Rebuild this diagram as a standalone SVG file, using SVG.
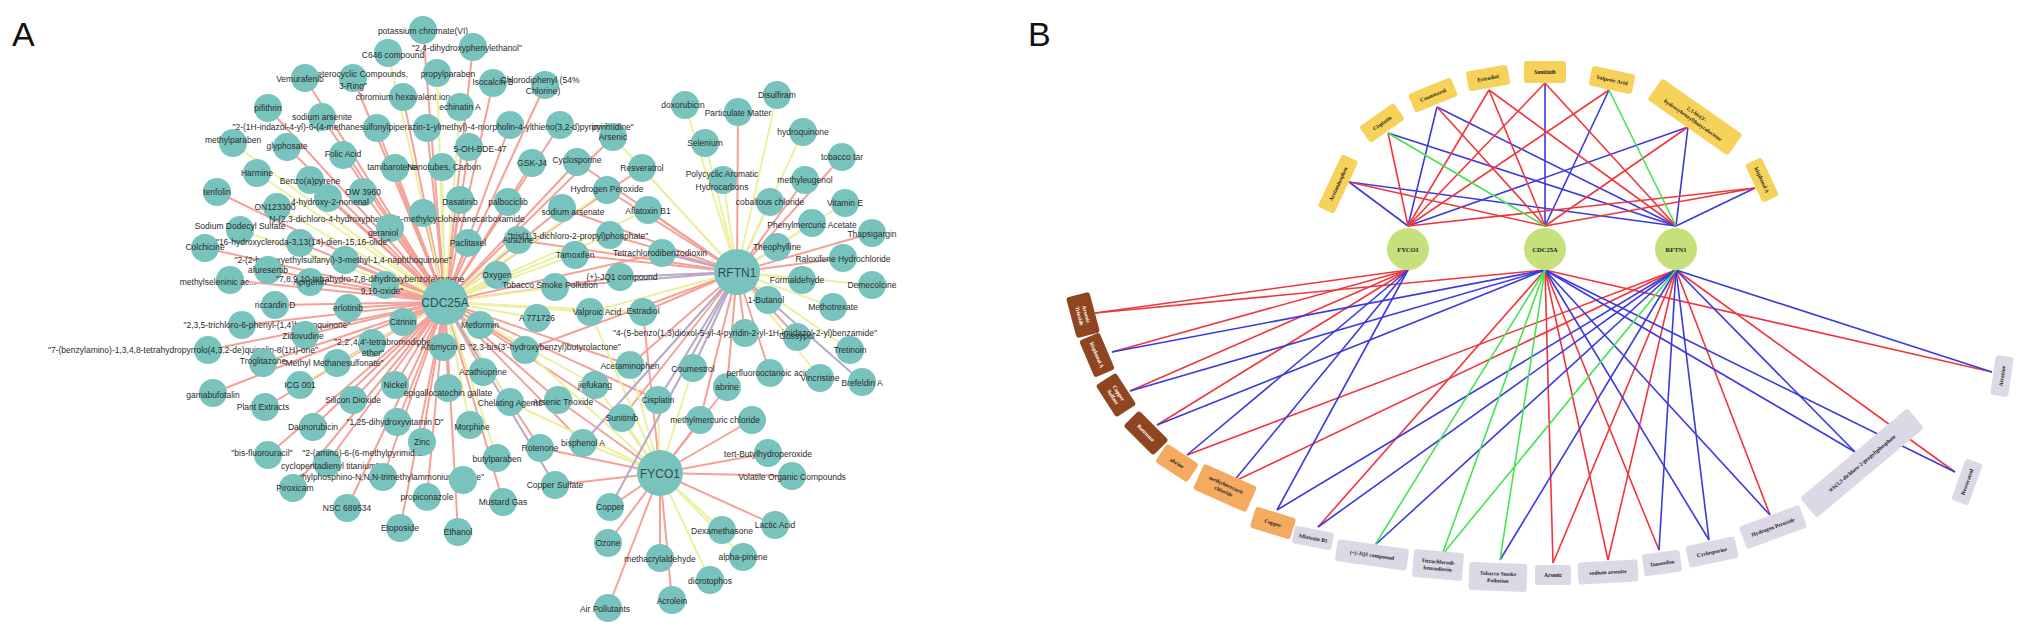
<svg xmlns="http://www.w3.org/2000/svg" width="2032" height="637" viewBox="0 0 2032 637">
<style>
.nd{fill:#78c3bd}
.lb{font-family:"Liberation Sans",Arial,sans-serif;font-size:8.5px;fill:#2b2b2b;text-anchor:middle;dominant-baseline:central}
.gl{font-size:12px;fill:#2f4f4f}
.pl{font-family:"Liberation Sans",Arial,sans-serif;font-size:34px;fill:#111}
.er{stroke:#f4a198;stroke-width:2}
.ey{stroke:#ecf0a0;stroke-width:2}
.ep{stroke:#b8a7c6;stroke-width:2}
.bg{fill:#c6e07c}
.by{fill:#f6d25a}
.bb{fill:#8f451f}
.bo{fill:#f4ab60}
.bl{fill:#dcd8e6}
.bt{font-family:"Liberation Serif","Times New Roman",serif;font-weight:bold;font-size:5.5px;fill:#222;text-anchor:middle;dominant-baseline:central}
.lr{stroke:#f0363c;stroke-width:1.6}
.lB{stroke:#3a3ae0;stroke-width:1.6}
.lg{stroke:#45e34f;stroke-width:1.6}
</style>
<rect width="2032" height="637" fill="#fff"/>
<text class="pl" x="12" y="46">A</text>
<text class="pl" x="1028" y="46">B</text>

<g id="connectors-a">
<g class="er">
<line x1="423" y1="30" x2="445" y2="302"/><line x1="473" y1="47" x2="445" y2="302"/><line x1="353" y1="78" x2="445" y2="302"/><line x1="305" y1="78" x2="445" y2="302"/><line x1="493" y1="83" x2="445" y2="302"/><line x1="545" y1="85" x2="445" y2="302"/><line x1="268" y1="108" x2="445" y2="302"/><line x1="403" y1="97" x2="445" y2="302"/><line x1="322" y1="117" x2="445" y2="302"/><line x1="427" y1="128" x2="445" y2="302"/><line x1="377" y1="128" x2="445" y2="302"/><line x1="510" y1="125" x2="445" y2="302"/><line x1="287" y1="147" x2="445" y2="302"/><line x1="343" y1="155" x2="445" y2="302"/><line x1="395" y1="168" x2="445" y2="302"/><line x1="469" y1="147" x2="445" y2="302"/><line x1="532" y1="163" x2="445" y2="302"/><line x1="577" y1="162" x2="445" y2="302"/><line x1="310" y1="180" x2="445" y2="302"/><line x1="217" y1="192" x2="445" y2="302"/><line x1="363" y1="192" x2="445" y2="302"/><line x1="328" y1="198" x2="445" y2="302"/><line x1="460" y1="200" x2="445" y2="302"/><line x1="508" y1="202" x2="445" y2="302"/><line x1="562" y1="208" x2="445" y2="302"/><line x1="423" y1="213" x2="445" y2="302"/><line x1="390" y1="228" x2="445" y2="302"/><line x1="468" y1="243" x2="445" y2="302"/><line x1="205" y1="248" x2="445" y2="302"/><line x1="300" y1="243" x2="445" y2="302"/><line x1="345" y1="260" x2="445" y2="302"/><line x1="268" y1="270" x2="445" y2="302"/><line x1="230" y1="280" x2="445" y2="302"/><line x1="310" y1="282" x2="445" y2="302"/><line x1="385" y1="285" x2="445" y2="302"/><line x1="275" y1="305" x2="445" y2="302"/><line x1="348" y1="308" x2="445" y2="302"/><line x1="242" y1="325" x2="445" y2="302"/><line x1="403" y1="322" x2="445" y2="302"/><line x1="480" y1="325" x2="445" y2="302"/><line x1="305" y1="335" x2="445" y2="302"/><line x1="372" y1="343" x2="445" y2="302"/><line x1="443" y1="347" x2="445" y2="302"/><line x1="525" y1="350" x2="445" y2="302"/><line x1="208" y1="350" x2="445" y2="302"/><line x1="263" y1="363" x2="445" y2="302"/><line x1="337" y1="363" x2="445" y2="302"/><line x1="483" y1="372" x2="445" y2="302"/><line x1="213" y1="393" x2="445" y2="302"/><line x1="395" y1="385" x2="445" y2="302"/><line x1="448" y1="388" x2="445" y2="302"/><line x1="265" y1="407" x2="445" y2="302"/><line x1="353" y1="400" x2="445" y2="302"/><line x1="558" y1="400" x2="445" y2="302"/><line x1="313" y1="427" x2="445" y2="302"/><line x1="397" y1="422" x2="445" y2="302"/><line x1="422" y1="442" x2="445" y2="302"/><line x1="540" y1="448" x2="445" y2="302"/><line x1="583" y1="443" x2="445" y2="302"/><line x1="268" y1="455" x2="445" y2="302"/><line x1="327" y1="463" x2="445" y2="302"/><line x1="383" y1="477" x2="445" y2="302"/><line x1="293" y1="488" x2="445" y2="302"/><line x1="427" y1="497" x2="445" y2="302"/><line x1="503" y1="502" x2="445" y2="302"/><line x1="347" y1="508" x2="445" y2="302"/><line x1="400" y1="528" x2="445" y2="302"/><line x1="458" y1="532" x2="445" y2="302"/><line x1="642" y1="168" x2="445" y2="302"/><line x1="613" y1="137" x2="445" y2="302"/><line x1="560" y1="125" x2="445" y2="302"/><line x1="662" y1="253" x2="445" y2="302"/><line x1="620" y1="277" x2="445" y2="302"/><line x1="630" y1="365" x2="445" y2="302"/><line x1="658" y1="400" x2="445" y2="302"/><line x1="622" y1="418" x2="445" y2="302"/>
<line x1="738" y1="112" x2="737" y2="272"/><line x1="842" y1="157" x2="737" y2="272"/><line x1="805" y1="180" x2="737" y2="272"/><line x1="607" y1="190" x2="737" y2="272"/><line x1="770" y1="202" x2="737" y2="272"/><line x1="648" y1="210" x2="737" y2="272"/><line x1="872" y1="233" x2="737" y2="272"/><line x1="777" y1="247" x2="737" y2="272"/><line x1="843" y1="258" x2="737" y2="272"/><line x1="643" y1="312" x2="737" y2="272"/><line x1="768" y1="300" x2="737" y2="272"/><line x1="745" y1="333" x2="737" y2="272"/><line x1="797" y1="337" x2="737" y2="272"/><line x1="630" y1="365" x2="737" y2="272"/><line x1="727" y1="387" x2="737" y2="272"/><line x1="770" y1="373" x2="737" y2="272"/><line x1="622" y1="418" x2="737" y2="272"/><line x1="700" y1="420" x2="737" y2="272"/><line x1="518" y1="240" x2="737" y2="272"/><line x1="610" y1="235" x2="737" y2="272"/><line x1="575" y1="255" x2="737" y2="272"/><line x1="525" y1="350" x2="737" y2="272"/><line x1="577" y1="162" x2="737" y2="272"/><line x1="562" y1="208" x2="737" y2="272"/>
<line x1="558" y1="400" x2="660" y2="473"/><line x1="540" y1="448" x2="660" y2="473"/><line x1="555" y1="485" x2="660" y2="473"/><line x1="643" y1="312" x2="660" y2="473"/><line x1="727" y1="387" x2="660" y2="473"/><line x1="700" y1="420" x2="660" y2="473"/><line x1="752" y1="420" x2="660" y2="473"/><line x1="768" y1="453" x2="660" y2="473"/><line x1="792" y1="476" x2="660" y2="473"/><line x1="610" y1="507" x2="660" y2="473"/><line x1="775" y1="525" x2="660" y2="473"/><line x1="608" y1="543" x2="660" y2="473"/><line x1="660" y1="558" x2="660" y2="473"/><line x1="672" y1="600" x2="660" y2="473"/><line x1="608" y1="608" x2="660" y2="473"/>
</g>
<g class="ey">
<line x1="388" y1="53" x2="445" y2="302"/><line x1="437" y1="73" x2="445" y2="302"/><line x1="460" y1="107" x2="445" y2="302"/><line x1="233" y1="143" x2="445" y2="302"/><line x1="442" y1="167" x2="445" y2="302"/><line x1="257" y1="173" x2="445" y2="302"/><line x1="277" y1="207" x2="445" y2="302"/><line x1="240" y1="230" x2="445" y2="302"/><line x1="518" y1="240" x2="445" y2="302"/><line x1="610" y1="235" x2="445" y2="302"/><line x1="575" y1="255" x2="445" y2="302"/><line x1="497" y1="275" x2="445" y2="302"/><line x1="555" y1="287" x2="445" y2="302"/><line x1="537" y1="318" x2="445" y2="302"/><line x1="590" y1="312" x2="445" y2="302"/><line x1="300" y1="385" x2="445" y2="302"/><line x1="595" y1="385" x2="445" y2="302"/><line x1="510" y1="402" x2="445" y2="302"/><line x1="470" y1="425" x2="445" y2="302"/><line x1="497" y1="458" x2="445" y2="302"/><line x1="607" y1="190" x2="445" y2="302"/><line x1="648" y1="210" x2="445" y2="302"/><line x1="643" y1="312" x2="445" y2="302"/>
<line x1="685" y1="105" x2="737" y2="272"/><line x1="777" y1="95" x2="737" y2="272"/><line x1="803" y1="132" x2="737" y2="272"/><line x1="705" y1="143" x2="737" y2="272"/><line x1="642" y1="168" x2="737" y2="272"/><line x1="723" y1="180" x2="737" y2="272"/><line x1="845" y1="203" x2="737" y2="272"/><line x1="613" y1="137" x2="737" y2="272"/><line x1="812" y1="223" x2="737" y2="272"/><line x1="802" y1="280" x2="737" y2="272"/><line x1="872" y1="285" x2="737" y2="272"/><line x1="833" y1="307" x2="737" y2="272"/><line x1="850" y1="350" x2="737" y2="272"/><line x1="820" y1="378" x2="737" y2="272"/><line x1="590" y1="312" x2="737" y2="272"/>
<line x1="590" y1="312" x2="660" y2="473"/><line x1="525" y1="350" x2="660" y2="473"/><line x1="595" y1="385" x2="660" y2="473"/><line x1="510" y1="402" x2="660" y2="473"/><line x1="583" y1="443" x2="660" y2="473"/><line x1="630" y1="365" x2="660" y2="473"/><line x1="693" y1="368" x2="660" y2="473"/><line x1="658" y1="400" x2="660" y2="473"/><line x1="622" y1="418" x2="660" y2="473"/><line x1="722" y1="530" x2="660" y2="473"/><line x1="743" y1="557" x2="660" y2="473"/><line x1="710" y1="580" x2="660" y2="473"/>
</g>
<g class="ep">
<line x1="555" y1="485" x2="445" y2="302"/>
<line x1="662" y1="253" x2="737" y2="272"/><line x1="620" y1="277" x2="737" y2="272"/><line x1="555" y1="287" x2="737" y2="272"/><line x1="693" y1="368" x2="737" y2="272"/><line x1="862" y1="382" x2="737" y2="272"/><line x1="658" y1="400" x2="737" y2="272"/><line x1="583" y1="443" x2="737" y2="272"/><line x1="610" y1="507" x2="737" y2="272"/>
</g>
</g>

<g id="nodes-a">
<g id="a1"><circle class="nd" cx="423" cy="30" r="14"/><text class="lb" x="423" y="31">potassium chromate(VI)</text></g>
<g id="a2"><circle class="nd" cx="473" cy="47" r="14"/><text class="lb" x="467" y="48">"2,4-dihydroxyphenylethanol"</text></g>
<g id="a3"><circle class="nd" cx="388" cy="53" r="14"/><text class="lb" x="393" y="55">C646 compound</text></g>
<g id="a4"><circle class="nd" cx="353" cy="78" r="14"/><text class="lb" x="358" y="74">"Heterocyclic Compounds,</text><text class="lb" x="353" y="86">3-Ring"</text></g>
<g id="a5"><circle class="nd" cx="437" cy="73" r="14"/><text class="lb" x="448" y="74">propylparaben</text></g>
<g id="a6"><circle class="nd" cx="305" cy="78" r="14"/><text class="lb" x="300" y="79">Vemurafenib</text></g>
<g id="a7"><circle class="nd" cx="493" cy="83" r="14"/><text class="lb" x="493" y="82">Isocalcin B</text></g>
<g id="a8"><circle class="nd" cx="545" cy="85" r="14"/><text class="lb" x="540" y="80">Chlorodiphenyl (54%</text><text class="lb" x="543" y="91">Chlorine)</text></g>
<g id="a9"><circle class="nd" cx="268" cy="108" r="14"/><text class="lb" x="268" y="108">pifithrin</text></g>
<g id="a10"><circle class="nd" cx="403" cy="97" r="14"/><text class="lb" x="403" y="97">chromium hexavalent ion</text></g>
<g id="a11"><circle class="nd" cx="460" cy="107" r="14"/><text class="lb" x="460" y="107">echinatin A</text></g>
<g id="a12"><circle class="nd" cx="322" cy="117" r="14"/><text class="lb" x="322" y="117">sodium arsenite</text></g>
<g id="a13b"><circle class="nd" cx="377" cy="128" r="14"/></g>
<g id="a13c"><circle class="nd" cx="510" cy="125" r="14"/></g>
<g id="a103"><circle class="nd" cx="560" cy="125" r="14"/></g>
<g id="a13"><circle class="nd" cx="427" cy="128" r="14"/><text class="lb" x="427" y="127">"2-(1H-indazol-4-yl)-6-(4-methanesulfonylpiperazin-1-ylmethyl)-4-morpholin-4-ylthieno(3,2-d)pyrimidine"</text></g>
<g id="a14"><circle class="nd" cx="233" cy="143" r="14"/><text class="lb" x="233" y="140">methylparaben</text></g>
<g id="a15"><circle class="nd" cx="287" cy="147" r="14"/><text class="lb" x="287" y="146">glyphosate</text></g>
<g id="a16"><circle class="nd" cx="343" cy="155" r="14"/><text class="lb" x="343" y="154">Folic Acid</text></g>
<g id="a17"><circle class="nd" cx="395" cy="168" r="14"/><text class="lb" x="392" y="167">tamibarotene</text></g>
<g id="a18"><circle class="nd" cx="442" cy="167" r="14"/><text class="lb" x="444" y="167">Nanotubes, Carbon</text></g>
<g id="a19"><circle class="nd" cx="469" cy="147" r="14"/><text class="lb" x="480" y="149">5-OH-BDE-47</text></g>
<g id="a20"><circle class="nd" cx="532" cy="163" r="14"/><text class="lb" x="532" y="163">GSK-J4</text></g>
<g id="a21"><circle class="nd" cx="577" cy="162" r="14"/><text class="lb" x="577" y="160">Cyclosporine</text></g>
<g id="a22"><circle class="nd" cx="257" cy="173" r="14"/><text class="lb" x="257" y="173">Harmine</text></g>
<g id="a23"><circle class="nd" cx="310" cy="180" r="14"/><text class="lb" x="310" y="181">Benzo(a)pyrene</text></g>
<g id="a24"><circle class="nd" cx="217" cy="192" r="14"/><text class="lb" x="217" y="192">tenfolin</text></g>
<g id="a25"><circle class="nd" cx="363" cy="192" r="14"/><text class="lb" x="363" y="192">OW 3960</text></g>
<g id="a26"><circle class="nd" cx="277" cy="207" r="14"/><text class="lb" x="275" y="207">ON123300</text></g>
<g id="a27"><circle class="nd" cx="328" cy="198" r="14"/><text class="lb" x="330" y="202">4-hydroxy-2-nonenal</text></g>
<g id="a28"><circle class="nd" cx="460" cy="200" r="14"/><text class="lb" x="460" y="202">Dasatinib</text></g>
<g id="a29"><circle class="nd" cx="508" cy="202" r="14"/><text class="lb" x="508" y="202">palbociclib</text></g>
<g id="a30"><circle class="nd" cx="562" cy="208" r="14"/><text class="lb" x="573" y="212">sodium arsenate</text></g>
<g id="a31"><circle class="nd" cx="423" cy="213" r="14"/><text class="lb" x="397" y="219">N-(2,3-dichloro-4-hydroxyphenyl)-1-methylcyclohexanecarboxamide</text></g>
<g id="a32"><circle class="nd" cx="390" cy="228" r="14"/><text class="lb" x="383" y="233">geraniol</text></g>
<g id="a33"><circle class="nd" cx="240" cy="230" r="14"/><text class="lb" x="240" y="226">Sodium Dodecyl Sulfate</text></g>
<g id="a34"><circle class="nd" cx="468" cy="243" r="14"/><text class="lb" x="468" y="243">Paclitaxel</text></g>
<g id="a35"><circle class="nd" cx="518" cy="240" r="14"/><text class="lb" x="518" y="240">Atrazine</text></g>
<g id="a36"><circle class="nd" cx="610" cy="235" r="14"/><text class="lb" x="578" y="236">"tris(1,3-dichloro-2-propyl)phosphate"</text></g>
<g id="a37"><circle class="nd" cx="205" cy="248" r="14"/><text class="lb" x="205" y="247">Colchicine</text></g>
<g id="a38"><circle class="nd" cx="300" cy="243" r="14"/><text class="lb" x="303" y="242">"16-hydroxycleroda-3,13(14)-dien-15,16-olide"</text></g>
<g id="a39"><circle class="nd" cx="345" cy="260" r="14"/><text class="lb" x="343" y="260">"2-(2-hydroxyethylsulfanyl)-3-methyl-1,4-naphthoquinone"</text></g>
<g id="a40"><circle class="nd" cx="575" cy="255" r="14"/><text class="lb" x="575" y="255">Tamoxifen</text></g>
<g id="a41"><circle class="nd" cx="268" cy="270" r="14"/><text class="lb" x="268" y="270">afuresertib</text></g>
<g id="a42"><circle class="nd" cx="230" cy="280" r="14"/><text class="lb" x="218" y="282">methylseleninic ac...</text></g>
<g id="a43"><circle class="nd" cx="310" cy="282" r="14"/><text class="lb" x="310" y="282">Apigenin</text></g>
<g id="a44"><circle class="nd" cx="385" cy="285" r="14"/><text class="lb" x="370" y="279">"7,8,9,10-tetrahydro-7,8-dihydroxybenzo(a)pyrene</text><text class="lb" x="382" y="291">9,10-oxide"</text></g>
<g id="a45"><circle class="nd" cx="497" cy="275" r="14"/><text class="lb" x="497" y="275">Oxygen</text></g>
<g id="a46"><circle class="nd" cx="555" cy="287" r="14"/><text class="lb" x="550" y="285">Tobacco Smoke Pollution</text></g>
<g id="a47"><circle class="nd" cx="275" cy="305" r="14"/><text class="lb" x="275" y="305">riccardin D</text></g>
<g id="a48"><circle class="nd" cx="348" cy="308" r="14"/><text class="lb" x="348" y="308">erlotinib</text></g>
<g id="a49"><circle class="nd" cx="537" cy="318" r="14"/><text class="lb" x="537" y="318">A 771726</text></g>
<g id="a50"><circle class="nd" cx="590" cy="312" r="14"/><text class="lb" x="597" y="312">Valproic Acid</text></g>
<g id="a51"><circle class="nd" cx="242" cy="325" r="14"/><text class="lb" x="267" y="325">"2,3,5-trichloro-6-phenyl-(1,4)benzoquinone"</text></g>
<g id="a52"><circle class="nd" cx="403" cy="322" r="14"/><text class="lb" x="403" y="322">Citrinin</text></g>
<g id="a53"><circle class="nd" cx="480" cy="325" r="14"/><text class="lb" x="480" y="325">Metformin</text></g>
<g id="a54"><circle class="nd" cx="305" cy="335" r="14"/><text class="lb" x="303" y="336">Zidovudine</text></g>
<g id="a55"><circle class="nd" cx="372" cy="343" r="14"/><text class="lb" x="388" y="342">"2,2',4,4'-tetrabromodiphenyl</text><text class="lb" x="373" y="353">ether"</text></g>
<g id="a56"><circle class="nd" cx="443" cy="347" r="14"/><text class="lb" x="443" y="347">Antimycin B</text></g>
<g id="a57"><circle class="nd" cx="525" cy="350" r="14"/><text class="lb" x="545" y="347">"2,3-bis(3'-hydroxybenzyl)butyrolactone"</text></g>
<g id="a58"><circle class="nd" cx="208" cy="350" r="14"/><text class="lb" x="183" y="350">"7-(benzylamino)-1,3,4,8-tetrahydropyrrolo(4,3,2-de)quinolin-8(1H)-one"</text></g>
<g id="a59"><circle class="nd" cx="263" cy="363" r="14"/><text class="lb" x="263" y="361">Troglitazone</text></g>
<g id="a60"><circle class="nd" cx="337" cy="363" r="14"/><text class="lb" x="333" y="363">"Methyl Methanesulfonate"</text></g>
<g id="a61"><circle class="nd" cx="483" cy="372" r="14"/><text class="lb" x="483" y="372">Azathioprine</text></g>
<g id="a62"><circle class="nd" cx="213" cy="393" r="14"/><text class="lb" x="213" y="395">gamabufotalin</text></g>
<g id="a63"><circle class="nd" cx="300" cy="385" r="14"/><text class="lb" x="300" y="385">ICG 001</text></g>
<g id="a64"><circle class="nd" cx="395" cy="385" r="14"/><text class="lb" x="395" y="385">Nickel</text></g>
<g id="a65"><circle class="nd" cx="448" cy="388" r="14"/><text class="lb" x="448" y="393">epigallocatechin gallate</text></g>
<g id="a66"><circle class="nd" cx="595" cy="385" r="14"/><text class="lb" x="595" y="385">jiefukang</text></g>
<g id="a67"><circle class="nd" cx="265" cy="407" r="14"/><text class="lb" x="263" y="407">Plant Extracts</text></g>
<g id="a68"><circle class="nd" cx="353" cy="400" r="14"/><text class="lb" x="353" y="400">Silicon Dioxide</text></g>
<g id="a69"><circle class="nd" cx="510" cy="402" r="14"/><text class="lb" x="510" y="403">Chelating Agents</text></g>
<g id="a70"><circle class="nd" cx="558" cy="400" r="14"/><text class="lb" x="563" y="402">Arsenic Trioxide</text></g>
<g id="a71"><circle class="nd" cx="313" cy="427" r="14"/><text class="lb" x="313" y="427">Daunorubicin</text></g>
<g id="a72"><circle class="nd" cx="397" cy="422" r="14"/><text class="lb" x="395" y="422">"1,25-dihydroxyvitamin D"</text></g>
<g id="a73"><circle class="nd" cx="470" cy="425" r="14"/><text class="lb" x="472" y="427">Morphine</text></g>
<g id="a74"><circle class="nd" cx="422" cy="442" r="14"/><text class="lb" x="422" y="442">Zinc</text></g>
<g id="a75"><circle class="nd" cx="540" cy="448" r="14"/><text class="lb" x="540" y="448">Rotenone</text></g>
<g id="a76"><circle class="nd" cx="583" cy="443" r="14"/><text class="lb" x="583" y="443">bisphenol A</text></g>
<g id="a77"><circle class="nd" cx="268" cy="455" r="14"/><text class="lb" x="262" y="453">"bis-fluorouracil"</text></g>
<g id="a78"><circle class="nd" cx="327" cy="463" r="14"/><text class="lb" x="362" y="453">"2-(amino)-6-(6-methylpyrimid...</text><text class="lb" x="330" y="466">cyclopentadienyl titanium"</text></g>
<g id="a80"><circle class="nd" cx="497" cy="458" r="14"/><text class="lb" x="497" y="459">butylparaben</text></g>
<g id="a81"><circle class="nd" cx="383" cy="477" r="14"/><text class="lb" x="388" y="477">"ethylphosphino-N,N,N-trimethylammoniumethane"</text></g>
<g id="a81b"><circle class="nd" cx="463" cy="480" r="14"/></g>
<g id="a82"><circle class="nd" cx="555" cy="485" r="14"/><text class="lb" x="555" y="485">Copper Sulfate</text></g>
<g id="a83"><circle class="nd" cx="293" cy="488" r="14"/><text class="lb" x="295" y="488">Piroxicam</text></g>
<g id="a84"><circle class="nd" cx="427" cy="497" r="14"/><text class="lb" x="427" y="497">propiconazole</text></g>
<g id="a85"><circle class="nd" cx="503" cy="502" r="14"/><text class="lb" x="503" y="502">Mustard Gas</text></g>
<g id="a86"><circle class="nd" cx="347" cy="508" r="14"/><text class="lb" x="347" y="508">NSC 689534</text></g>
<g id="a87"><circle class="nd" cx="400" cy="528" r="14"/><text class="lb" x="400" y="528">Etoposide</text></g>
<g id="a88"><circle class="nd" cx="458" cy="532" r="14"/><text class="lb" x="458" y="532">Ethanol</text></g>
<g id="a89"><circle class="nd" cx="685" cy="105" r="14"/><text class="lb" x="683" y="105">doxorubicin</text></g>
<g id="a90"><circle class="nd" cx="738" cy="112" r="14"/><text class="lb" x="738" y="113">Particulate Matter</text></g>
<g id="a91"><circle class="nd" cx="777" cy="95" r="14"/><text class="lb" x="777" y="95">Disulfiram</text></g>
<g id="a92"><circle class="nd" cx="803" cy="132" r="14"/><text class="lb" x="803" y="132">hydroquinone</text></g>
<g id="a93"><circle class="nd" cx="705" cy="143" r="14"/><text class="lb" x="705" y="143">Selenium</text></g>
<g id="a94"><circle class="nd" cx="842" cy="157" r="14"/><text class="lb" x="842" y="157">tobacco tar</text></g>
<g id="a95"><circle class="nd" cx="642" cy="168" r="14"/><text class="lb" x="642" y="168">Resveratrol</text></g>
<g id="a96"><circle class="nd" cx="723" cy="180" r="14"/><text class="lb" x="722" y="174">Polycyclic Aromatic</text><text class="lb" x="722" y="187">Hydrocarbons</text></g>
<g id="a97"><circle class="nd" cx="805" cy="180" r="14"/><text class="lb" x="805" y="180">methyleugenol</text></g>
<g id="a98"><circle class="nd" cx="607" cy="190" r="14"/><text class="lb" x="607" y="189">Hydrogen Peroxide</text></g>
<g id="a99"><circle class="nd" cx="770" cy="202" r="14"/><text class="lb" x="770" y="202">cobaltous chloride</text></g>
<g id="a100"><circle class="nd" cx="845" cy="203" r="14"/><text class="lb" x="845" y="203">Vitamin E</text></g>
<g id="a101"><circle class="nd" cx="648" cy="210" r="14"/><text class="lb" x="648" y="211">Aflatoxin B1</text></g>
<g id="a102"><circle class="nd" cx="613" cy="137" r="14"/><text class="lb" x="613" y="127">pyrimidine"</text><text class="lb" x="613" y="137">Arsenic</text></g>
<g id="a104"><circle class="nd" cx="812" cy="223" r="14"/><text class="lb" x="812" y="225">Phenylmercuric Acetate</text></g>
<g id="a105"><circle class="nd" cx="872" cy="233" r="14"/><text class="lb" x="872" y="234">Thapsigargin</text></g>
<g id="a106"><circle class="nd" cx="662" cy="253" r="14"/><text class="lb" x="660" y="253">Tetrachlorodibenzodioxin</text></g>
<g id="a107"><circle class="nd" cx="777" cy="247" r="14"/><text class="lb" x="777" y="247">Theophylline</text></g>
<g id="a108"><circle class="nd" cx="843" cy="258" r="14"/><text class="lb" x="843" y="259">Raloxifene Hydrochloride</text></g>
<g id="a109"><circle class="nd" cx="620" cy="277" r="14"/><text class="lb" x="622" y="277">(+)-JQ1 compound</text></g>
<g id="a110"><circle class="nd" cx="802" cy="280" r="14"/><text class="lb" x="797" y="280">Formaldehyde</text></g>
<g id="a111"><circle class="nd" cx="872" cy="285" r="14"/><text class="lb" x="872" y="285">Demecolcine</text></g>
<g id="a112"><circle class="nd" cx="643" cy="312" r="14"/><text class="lb" x="643" y="311">Estradiol</text></g>
<g id="a113"><circle class="nd" cx="768" cy="300" r="14"/><text class="lb" x="766" y="300">1-Butanol</text></g>
<g id="a114"><circle class="nd" cx="833" cy="307" r="14"/><text class="lb" x="833" y="307">Methotrexate</text></g>
<g id="a115"><circle class="nd" cx="745" cy="333" r="14"/></g>
<g id="a116"><circle class="nd" cx="797" cy="337" r="14"/><text class="lb" x="745" y="333">"4-(5-benzo(1,3)dioxol-5-yl-4-pyridin-2-yl-1H-imidazol-2-yl)benzamide"</text><text class="lb" x="797" y="336">Gossypol</text></g>
<g id="a117"><circle class="nd" cx="850" cy="350" r="14"/><text class="lb" x="850" y="350">Tretinoin</text></g>
<g id="a118"><circle class="nd" cx="630" cy="365" r="14"/><text class="lb" x="630" y="366">Acetaminophen</text></g>
<g id="a119"><circle class="nd" cx="693" cy="368" r="14"/><text class="lb" x="693" y="369">Coumestrol</text></g>
<g id="a120"><circle class="nd" cx="727" cy="387" r="14"/><text class="lb" x="727" y="387">abrine</text></g>
<g id="a121"><circle class="nd" cx="770" cy="373" r="14"/><text class="lb" x="768" y="373">perfluorooctanoic acid</text></g>
<g id="a122"><circle class="nd" cx="820" cy="378" r="14"/><text class="lb" x="820" y="378">Vincristine</text></g>
<g id="a123"><circle class="nd" cx="862" cy="382" r="14"/><text class="lb" x="862" y="383">Brefeldin A</text></g>
<g id="a124"><circle class="nd" cx="658" cy="400" r="14"/><text class="lb" x="658" y="400">Cisplatin</text></g>
<g id="a125"><circle class="nd" cx="622" cy="418" r="14"/><text class="lb" x="622" y="418">Sunitinib</text></g>
<g id="a127"><circle class="nd" cx="752" cy="420" r="14"/></g>
<g id="a126"><circle class="nd" cx="700" cy="420" r="14"/><text class="lb" x="715" y="420">methylmercuric chloride</text></g>
<g id="a128"><circle class="nd" cx="768" cy="453" r="14"/><text class="lb" x="768" y="454">tert-Butylhydroperoxide</text></g>
<g id="a129"><circle class="nd" cx="792" cy="476" r="14"/><text class="lb" x="792" y="477">Volatile Organic Compounds</text></g>
<g id="a130"><circle class="nd" cx="610" cy="507" r="14"/><text class="lb" x="610" y="507">Copper</text></g>
<g id="a131"><circle class="nd" cx="722" cy="530" r="14"/><text class="lb" x="722" y="531">Dexamethasone</text></g>
<g id="a132"><circle class="nd" cx="775" cy="525" r="14"/><text class="lb" x="775" y="525">Lactic Acid</text></g>
<g id="a133"><circle class="nd" cx="608" cy="543" r="14"/><text class="lb" x="608" y="543">Ozone</text></g>
<g id="a134"><circle class="nd" cx="743" cy="557" r="14"/><text class="lb" x="743" y="557">alpha-pinene</text></g>
<g id="a135"><circle class="nd" cx="660" cy="558" r="14"/><text class="lb" x="660" y="559">methacrylaldehyde</text></g>
<g id="a136"><circle class="nd" cx="710" cy="580" r="14"/><text class="lb" x="710" y="581">dicrotophos</text></g>
<g id="a137"><circle class="nd" cx="672" cy="600" r="14"/><text class="lb" x="672" y="601">Acrolein</text></g>
<g id="a138"><circle class="nd" cx="608" cy="608" r="14"/><text class="lb" x="605" y="609">Air Pollutants</text></g>
<g id="a-cdc25a"><circle class="nd" cx="445" cy="302" r="23"/><text class="lb gl" x="445" y="303">CDC25A</text></g>
<g id="a-rftn1"><circle class="nd" cx="737" cy="272" r="23"/><text class="lb gl" x="737" y="273">RFTN1</text></g>
<g id="a-fyco1"><circle class="nd" cx="660" cy="473" r="23"/><text class="lb gl" x="660" y="474">FYCO1</text></g>
</g>

<g id="connectors-b">
<g class="lB"><line x1="1349" y1="182" x2="1408" y2="226"/><line x1="1349" y1="182" x2="1676" y2="226"/><line x1="1388" y1="133" x2="1676" y2="226"/><line x1="1437" y1="107" x2="1408" y2="226"/><line x1="1437" y1="107" x2="1676" y2="226"/><line x1="1545" y1="83" x2="1545" y2="226"/><line x1="1609" y1="90" x2="1545" y2="226"/><line x1="1688" y1="127" x2="1408" y2="226"/><line x1="1688" y1="127" x2="1676" y2="226"/><line x1="1755" y1="188" x2="1676" y2="226"/></g>
<g class="lr"><line x1="1349" y1="182" x2="1545" y2="226"/><line x1="1388" y1="133" x2="1408" y2="226"/><line x1="1437" y1="107" x2="1545" y2="226"/><line x1="1489" y1="90" x2="1408" y2="226"/><line x1="1489" y1="90" x2="1545" y2="226"/><line x1="1489" y1="90" x2="1676" y2="226"/><line x1="1545" y1="83" x2="1408" y2="226"/><line x1="1545" y1="83" x2="1676" y2="226"/><line x1="1609" y1="90" x2="1408" y2="226"/><line x1="1688" y1="127" x2="1545" y2="226"/><line x1="1755" y1="188" x2="1408" y2="226"/><line x1="1755" y1="188" x2="1545" y2="226"/></g>
<g class="lg"><line x1="1388" y1="133" x2="1545" y2="226"/><line x1="1609" y1="90" x2="1676" y2="226"/></g>
<g class="lr"><line x1="1095" y1="313" x2="1408" y2="270"/><line x1="1095" y1="313" x2="1545" y2="270"/><line x1="1112" y1="352" x2="1408" y2="270"/><line x1="1130" y1="391" x2="1408" y2="270"/><line x1="1157" y1="425" x2="1408" y2="270"/><line x1="1187" y1="455" x2="1676" y2="270"/><line x1="1233" y1="482" x2="1676" y2="270"/><line x1="1318" y1="527" x2="1545" y2="270"/><line x1="1553" y1="563" x2="1545" y2="270"/><line x1="1553" y1="563" x2="1676" y2="270"/><line x1="1608" y1="560" x2="1545" y2="270"/><line x1="1608" y1="560" x2="1676" y2="270"/><line x1="1659" y1="550" x2="1545" y2="270"/><line x1="1770" y1="515" x2="1676" y2="270"/><line x1="1955" y1="472" x2="1676" y2="270"/><line x1="1992" y1="372" x2="1545" y2="270"/></g>
<g class="lB"><line x1="1112" y1="352" x2="1545" y2="270"/><line x1="1130" y1="391" x2="1545" y2="270"/><line x1="1157" y1="425" x2="1545" y2="270"/><line x1="1187" y1="455" x2="1408" y2="270"/><line x1="1233" y1="482" x2="1408" y2="270"/><line x1="1277" y1="510" x2="1408" y2="270"/><line x1="1277" y1="510" x2="1676" y2="270"/><line x1="1318" y1="527" x2="1676" y2="270"/><line x1="1375" y1="545" x2="1676" y2="270"/><line x1="1500" y1="560" x2="1676" y2="270"/><line x1="1659" y1="550" x2="1676" y2="270"/><line x1="1709" y1="540" x2="1545" y2="270"/><line x1="1709" y1="540" x2="1676" y2="270"/><line x1="1770" y1="515" x2="1545" y2="270"/><line x1="1855" y1="452" x2="1545" y2="270"/><line x1="1855" y1="452" x2="1676" y2="270"/><line x1="1955" y1="472" x2="1545" y2="270"/><line x1="1992" y1="372" x2="1676" y2="270"/></g>
<g class="lg"><line x1="1375" y1="545" x2="1545" y2="270"/><line x1="1442" y1="555" x2="1545" y2="270"/><line x1="1442" y1="555" x2="1676" y2="270"/><line x1="1500" y1="560" x2="1545" y2="270"/></g>
</g>

<g id="nodes-b">
<g id="b-fyco1"><circle class="bg" cx="1408" cy="249" r="21"/><text class="bt" x="1408" y="249" style="font-size:6.5px">FYCO1</text></g>
<g id="b-cdc25a"><circle class="bg" cx="1545" cy="249" r="21"/><text class="bt" x="1545" y="249" style="font-size:6.5px">CDC25A</text></g>
<g id="b-rftn1"><circle class="bg" cx="1676" cy="249" r="21"/><text class="bt" x="1676" y="249" style="font-size:6.5px">RFTN1</text></g>

<g id="b-acetaminophen" transform="translate(1338,184) rotate(-65)"><rect class="by" x="-29" y="-9" width="58" height="18" rx="3"/><text class="bt">Acetaminophen</text></g>
<g id="b-cisplatin" transform="translate(1382,123) rotate(-35)"><rect class="by" x="-21" y="-10" width="42" height="20" rx="3"/><text class="bt">Cisplatin</text></g>
<g id="b-coumestrol" transform="translate(1433,95) rotate(-22)"><rect class="by" x="-23" y="-10" width="46" height="20" rx="3"/><text class="bt">Coumestrol</text></g>
<g id="b-estradiol" transform="translate(1488,78) rotate(-10)"><rect class="by" x="-21" y="-10" width="42" height="20" rx="3"/><text class="bt">Estradiol</text></g>
<g id="b-sunitinib" transform="translate(1545,72)"><rect class="by" x="-21" y="-11" width="42" height="22" rx="3"/><text class="bt">Sunitinib</text></g>
<g id="b-valproic" transform="translate(1612,80) rotate(12)"><rect class="by" x="-22" y="-10" width="44" height="20" rx="3"/><text class="bt">Valproic Acid</text></g>
<g id="b-bisbutyro" transform="translate(1695,117) rotate(35)"><rect class="by" x="-49" y="-13" width="98" height="26" rx="3"/><text class="bt" y="-3.5">2,3-bis(3'-</text><text class="bt" y="3.5">hydroxybenzyl)butyrolactone</text></g>
<g id="b-bisphenol" transform="translate(1762,180) rotate(65)"><rect class="by" x="-21" y="-9" width="42" height="18" rx="3"/><text class="bt">bisphenol A</text></g>

<g id="b-arsenictrioxide" transform="translate(1083,315) rotate(75)"><rect class="bb" x="-21" y="-12" width="42" height="24" rx="3"/><text class="bt" y="-3.5" style="fill:#fff">Arsenic</text><text class="bt" y="3.5" style="fill:#fff">Trioxide</text></g>
<g id="b-chelating" transform="translate(1097,355) rotate(67)"><rect class="bb" x="-20" y="-11" width="40" height="22" rx="3"/><text class="bt" style="fill:#fff">bisphenol A</text></g>
<g id="b-coppersulfate" transform="translate(1116,395) rotate(57)"><rect class="bb" x="-19" y="-12" width="38" height="24" rx="3"/><text class="bt" y="-3.5" style="fill:#fff">Copper</text><text class="bt" y="3.5" style="fill:#fff">Sulfate</text></g>
<g id="b-rotenone" transform="translate(1146,433) rotate(45)"><rect class="bb" x="-21" y="-11" width="42" height="22" rx="3"/><text class="bt" style="fill:#fff">Rotenone</text></g>
<g id="b-abrine" transform="translate(1177,463) rotate(33)"><rect class="bo" x="-19" y="-11" width="38" height="22" rx="3"/><text class="bt">abrine</text></g>
<g id="b-methylmercuric" transform="translate(1225,488) rotate(24)"><rect class="bo" x="-29" y="-14" width="58" height="28" rx="3"/><text class="bt" y="-3.5">methylmercuric</text><text class="bt" y="3.5">chloride</text></g>
<g id="b-copper" transform="translate(1273,523) rotate(17)"><rect class="bo" x="-21" y="-11" width="42" height="22" rx="3"/><text class="bt">Copper</text></g>
<g id="b-aflatoxin" transform="translate(1313,538) rotate(11)"><rect class="bl" x="-20" y="-9" width="40" height="18" rx="3"/><text class="bt">Aflatoxin B1</text></g>
<g id="b-jq1" transform="translate(1372,555) rotate(8)"><rect class="bl" x="-36" y="-11" width="72" height="22" rx="3"/><text class="bt">(+)-JQ1 compound</text></g>
<g id="b-tcdd" transform="translate(1438,565) rotate(5)"><rect class="bl" x="-25" y="-14" width="50" height="28" rx="3"/><text class="bt" y="-3.5">Tetrachlorodi-</text><text class="bt" y="3.5">benzodioxin</text></g>
<g id="b-tobacco" transform="translate(1498,577) rotate(2)"><rect class="bl" x="-29" y="-14" width="58" height="28" rx="3"/><text class="bt" y="-3.5">Tobacco Smoke</text><text class="bt" y="3.5">Pollution</text></g>
<g id="b-arsenic" transform="translate(1553,575)"><rect class="bl" x="-18" y="-10" width="36" height="20" rx="3"/><text class="bt">Arsenic</text></g>
<g id="b-sodiumarsenite" transform="translate(1608,572) rotate(-3)"><rect class="bl" x="-30" y="-11" width="60" height="22" rx="3"/><text class="bt">sodium arsenite</text></g>
<g id="b-tamoxifen" transform="translate(1662,563) rotate(-8)"><rect class="bl" x="-19" y="-11" width="38" height="22" rx="3"/><text class="bt">Tamoxifen</text></g>
<g id="b-cyclosporine" transform="translate(1712,552) rotate(-12)"><rect class="bl" x="-25" y="-11" width="50" height="22" rx="3"/><text class="bt">Cyclosporine</text></g>
<g id="b-h2o2" transform="translate(1773,527) rotate(-20)"><rect class="bl" x="-32" y="-12" width="64" height="24" rx="3"/><text class="bt">Hydrogen Peroxide</text></g>
<g id="b-tris" transform="translate(1862,463) rotate(-40)"><rect class="bl" x="-70" y="-13" width="140" height="26" rx="3"/><text class="bt">tris(1,3-dichloro-2-propyl)phosphate</text></g>
<g id="b-resveratrol" transform="translate(1967,482) rotate(-70)"><rect class="bl" x="-22" y="-9" width="44" height="18" rx="3"/><text class="bt">Resveratrol</text></g>
<g id="b-atrazine" transform="translate(2002,376) rotate(-82)"><rect class="bl" x="-20" y="-9" width="40" height="18" rx="3"/><text class="bt">Atrazine</text></g>
</g>
</svg>
